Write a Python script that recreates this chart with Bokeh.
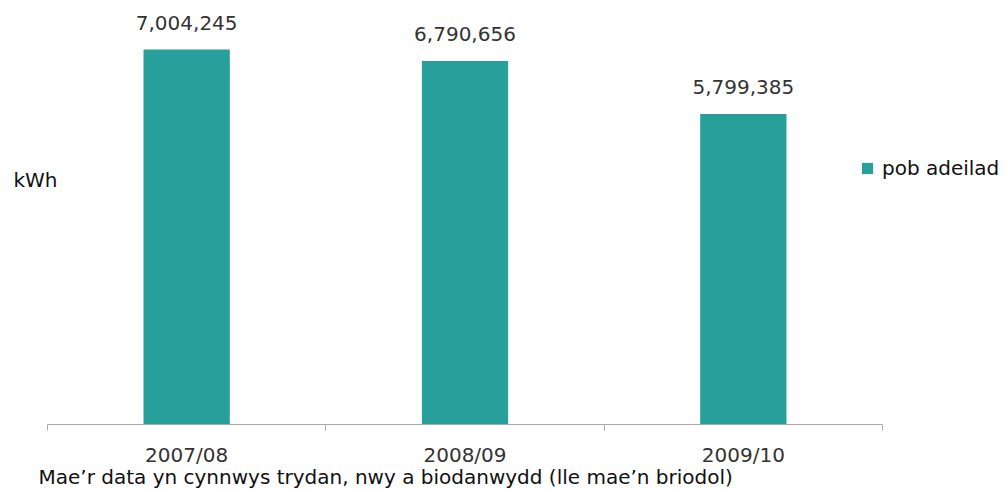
from bokeh.plotting import figure
from bokeh.models import (Range1d, LinearAxis, FixedTicker, Label, Legend, LegendItem,
                          ColumnDataSource)
from bokeh.core.properties import value
from bokeh.embed import file_html
from bokeh.resources import INLINE

categories = ["2007/08", "2008/09", "2009/10"]
values = [7004245, 6790656, 5799385]
value_labels = ["7,004,245", "6,790,656", "5,799,385"]
series_name = "pob adeilad"
unit_label = "kWh"
footnote = "Mae\u2019r data yn cynnwys trydan, nwy a biodanwydd (lle mae\u2019n briodol)"

FONT = "DejaVu Sans"
BAR = "#279f9b"
AXIS = "#aaaaaa"
W, H = 1006, 491

n = len(categories)
centers = [i + 0.5 for i in range(n)]
src = ColumnDataSource(dict(x=centers, top=values, lab=value_labels))

p = figure(width=W, height=H, output_backend="svg", toolbar_location=None,
           x_axis_type=None, y_axis_type=None,
           x_range=Range1d(-0.16886, 3.4455), y_range=Range1d(-1.2514e6, 7.9195e6),
           min_border=0)
p.outline_line_color = None
p.xgrid.visible = False
p.ygrid.visible = False
p.background_fill_color = "white"

bars = p.vbar(x="x", top="top", width=0.31, source=src, fill_color=BAR,
              line_color=None)

p.text(x="x", y="top", text="lab", source=src, text_align="center",
       text_baseline="alphabetic", y_offset=-27, text_color="#333333",
       text_font=value(FONT), text_font_size="20px")

# axis line with ticks at the category boundaries
tick_axis = LinearAxis(ticker=FixedTicker(ticks=list(range(n + 1))),
                       major_label_overrides={i: "" for i in range(n + 1)},
                       major_label_text_font_size="0px", major_label_standoff=0,
                       axis_line_color=AXIS, major_tick_line_color=AXIS,
                       major_tick_out=6, major_tick_in=0, bounds=(0, n),
                       minor_tick_line_color=None, fixed_location=0)
p.add_layout(tick_axis, "below")

# category labels
lab_axis = LinearAxis(ticker=FixedTicker(ticks=centers),
                      major_label_overrides={c: cat for c, cat in zip(centers, categories)},
                      major_label_text_font=FONT, major_label_text_font_size="20px",
                      major_label_text_color="#333333", major_label_standoff=18,
                      axis_line_color=None, major_tick_line_color=None,
                      major_tick_out=0, major_tick_in=0,
                      minor_tick_line_color=None, fixed_location=0)
p.add_layout(lab_axis, "below")

p.add_layout(Label(x=13, y=312, x_units="screen", y_units="screen", text=unit_label,
                   text_font=FONT, text_font_size="20px", text_color="#111111",
                   text_baseline="alphabetic"))
p.add_layout(Label(x=38, y=15, x_units="screen", y_units="screen", text=footnote,
                   text_font=FONT, text_font_size="20px", text_color="#111111",
                   text_baseline="alphabetic"))

legend = Legend(items=[LegendItem(label=series_name, renderers=[bars])],
                location=(860, 310), padding=0, margin=0, border_line_color=None,
                background_fill_alpha=0, glyph_width=14, glyph_height=14,
                label_height=27, label_standoff=8, label_text_font=FONT,
                label_text_font_size="20px", label_text_color="#111111",
                label_text_baseline="middle")
p.add_layout(legend, "center")

open("out.html", "w").write(file_html(p, INLINE))
